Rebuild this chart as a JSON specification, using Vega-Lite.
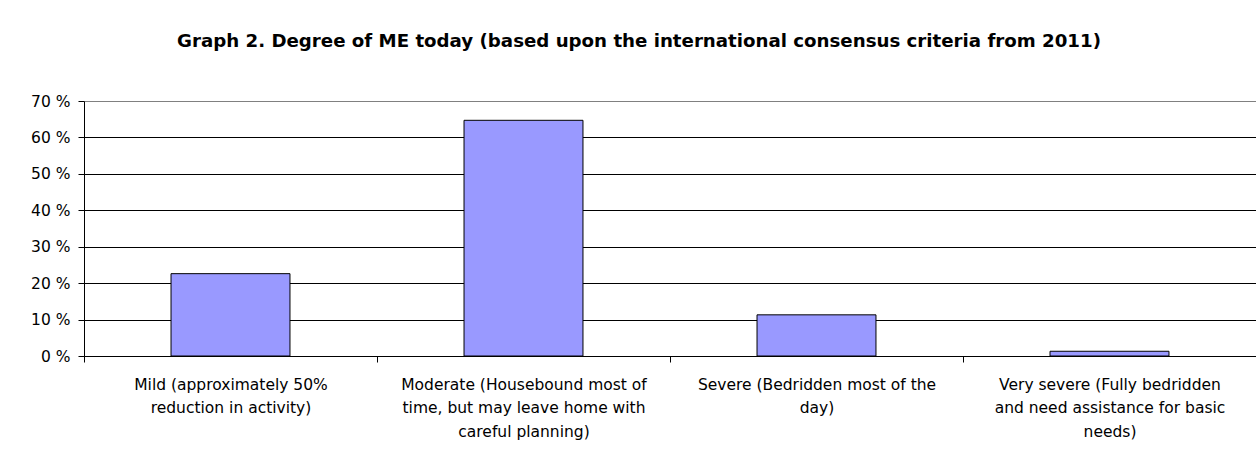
{
  "$schema": "https://vega.github.io/schema/vega-lite/v6.json",
  "width": 1172,
  "height": 255,
  "autosize": "none",
  "padding": {"left": 84, "top": 101, "right": 0, "bottom": 101},
  "background": "white",
  "title": {
    "text": "Graph 2. Degree of ME today (based upon the international consensus criteria from 2011)",
    "font": "DejaVu Sans",
    "fontSize": 18.2,
    "fontWeight": "bold",
    "color": "black",
    "anchor": "middle",
    "frame": "group",
    "dx": -31,
    "offset": 43
  },
  "data": {
    "values": [
      {"degree": "Mild (approximately 50% reduction in activity)", "share": 22.6},
      {"degree": "Moderate (Housebound most of time, but may leave home with careful planning)", "share": 64.7},
      {"degree": "Severe (Bedridden most of the day)", "share": 11.3},
      {"degree": "Very severe (Fully bedridden and need assistance for basic needs)", "share": 1.3}
    ]
  },
  "mark": {"type": "bar", "color": "#9999FF", "stroke": "black", "strokeWidth": 1, "width": {"band": 0.406}},
  "encoding": {
    "x": {
      "field": "degree",
      "type": "nominal",
      "sort": null,
      "title": null,
      "scale": {"paddingInner": 0, "paddingOuter": 0},
      "axis": {
        "labelAngle": 0,
        "labelFont": "DejaVu Sans",
        "labelFontSize": 15.5,
        "labelColor": "black",
        "labelLineHeight": 23.5,
        "labelPadding": 15,
        "labelBaseline": "top",
        "labelLimit": 400,
        "domainColor": "black",
        "tickColor": "black",
        "tickSize": 6,
        "tickBand": "extent",
        "grid": false,
        "labelExpr": "datum.value == 'Mild (approximately 50% reduction in activity)' ? ['Mild (approximately 50%', 'reduction in activity)'] : datum.value == 'Moderate (Housebound most of time, but may leave home with careful planning)' ? ['Moderate (Housebound most of', 'time, but may leave home with', 'careful planning)'] : datum.value == 'Severe (Bedridden most of the day)' ? ['Severe (Bedridden most of the', 'day)'] : datum.value == 'Very severe (Fully bedridden and need assistance for basic needs)' ? ['Very severe (Fully bedridden', 'and need assistance for basic', 'needs)'] : ''"
      }
    },
    "y": {
      "field": "share",
      "type": "quantitative",
      "title": null,
      "scale": {"domain": [0, 70], "nice": false},
      "axis": {
        "values": [0, 10, 20, 30, 40, 50, 60, 70],
        "labelExpr": "datum.value + ' %'",
        "labelFont": "DejaVu Sans",
        "labelFontSize": 15.5,
        "labelColor": "black",
        "labelPadding": 8,
        "domainColor": "black",
        "tickColor": "black",
        "tickSize": 6,
        "grid": true,
        "gridColor": {"condition": {"test": "datum.value == 70", "value": "#808080"}, "value": "black"},
        "gridOpacity": 1
      }
    }
  },
  "config": {"view": {"stroke": null}}
}
